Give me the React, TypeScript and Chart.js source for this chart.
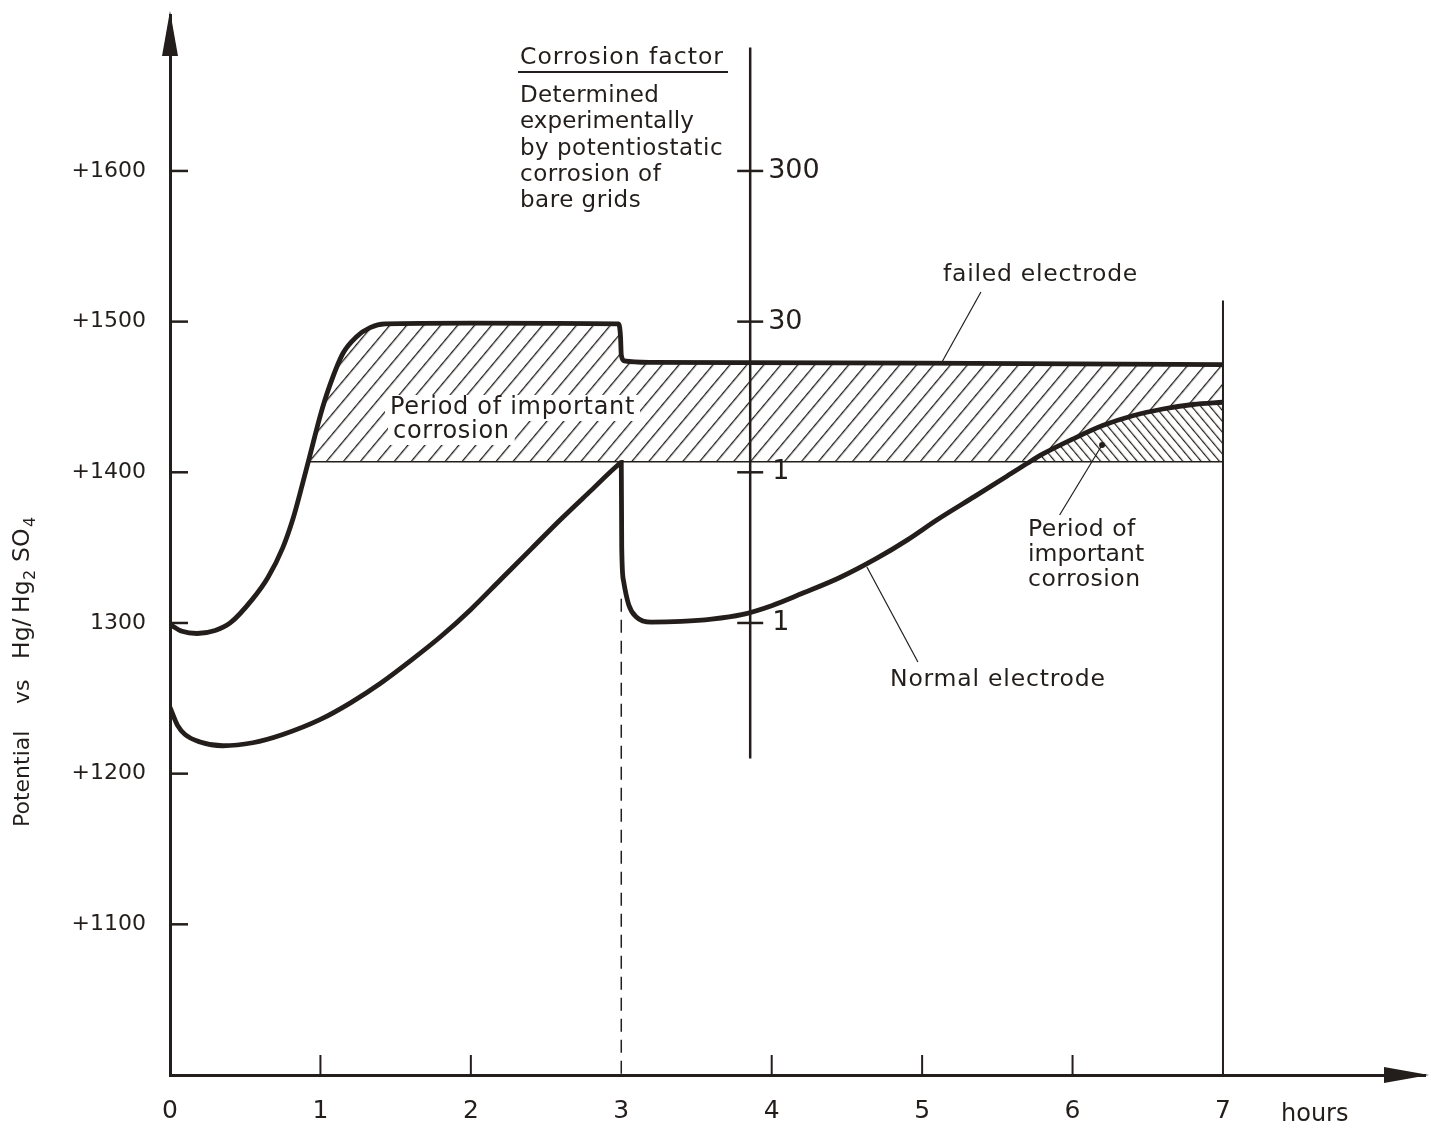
import React, { useEffect, useRef } from 'react';
import { Chart, registerables } from 'chart.js';

Chart.register(...registerables);

const INK = '#231e1b';
const FONT = '"DejaVu Sans", sans-serif';

// ---- data (hours, mV vs Hg/Hg2SO4) ----
const normalHours = [0, 0.05, 0.1, 0.2, 0.35, 0.55, 0.75, 1.0, 1.2, 1.4, 1.6, 1.8, 2.0, 2.2, 2.4, 2.6, 2.8, 2.98, 3.0, 3.003, 3.015, 3.05, 3.1, 3.2, 3.4, 3.6, 3.8, 4.0, 4.2, 4.45, 4.7, 4.9, 5.1, 5.35, 5.55, 5.7, 5.8, 6.0, 6.2, 6.4, 6.6, 6.8, 7.0];
const normalPotential = [1244, 1232, 1226, 1221, 1218.5, 1220.5, 1226, 1236, 1247, 1260, 1275, 1291, 1309, 1329, 1349, 1369, 1388, 1405, 1406.5, 1350, 1328, 1312, 1304, 1300.5, 1301, 1302.5, 1305.5, 1311.5, 1319.5, 1330, 1343, 1355, 1368.5, 1384, 1396.5, 1406, 1412, 1422, 1431, 1437.5, 1442, 1445, 1446.5];

const failedHours = [0, 0.08, 0.18, 0.3, 0.4, 0.55, 0.65, 0.75, 0.82, 0.88, 0.94, 1.0, 1.06, 1.15, 1.24, 1.33, 1.43, 2.0, 2.98, 2.995, 3.0, 3.02, 3.2, 5.0, 7.0];
const failedPotential = [1299, 1294.5, 1293, 1295, 1300, 1316, 1330, 1350, 1370, 1392, 1415, 1438, 1457, 1479, 1490, 1496, 1498.5, 1499, 1498.5, 1490, 1478, 1474, 1473, 1472.5, 1471.5];

const thresholdHours = [0.92, 7];
const thresholdPotential = [1407, 1407];

const yTickValues = [1100, 1200, 1300, 1400, 1500, 1600];
const yTickLabels = ['+1100', '+1200', '1300', '+1400', '+1500', '+1600'];
const xTickValues = [0, 1, 2, 3, 4, 5, 6, 7];
const xTickLabels = ['0', '1', '2', '3', '4', '5', '6', '7'];

const factorAxisHour = 3.857;
const factorAxisRange = [1210, 1682];
const factorTickPotential = [1600, 1500, 1400, 1300];
const factorTickLabels = ['300', '30', '1', '1'];

const endLineHour = 7;
const endLineRange = [1000, 1514];
const switchHour = 3;
const switchRange = [1000, 1316];

const zip = (xs: number[], ys: number[]) => xs.map((x, i) => ({ x, y: ys[i] }));

function hatch(ctx: CanvasRenderingContext2D, spacing: number, rotateDeg: number, lw: number, bg?: string) {
  const c = document.createElement('canvas');
  c.width = spacing;
  c.height = spacing;
  const g = c.getContext('2d')!;
  if (bg) {
    g.fillStyle = bg;
    g.fillRect(0, 0, spacing, spacing);
  }
  g.fillStyle = INK;
  g.fillRect(0, 0, lw, spacing);
  const p = ctx.createPattern(c, 'repeat')!;
  p.setTransform(new DOMMatrix().rotateSelf(rotateDeg));
  return p;
}

const overlay = {
  id: 'overlay',
  afterDatasetsDraw(chart: any) {
    const { ctx, scales } = chart;
    const X = (t: number) => scales.x.getPixelForValue(t);
    const Y = (v: number) => scales.y.getPixelForValue(v);
    const seg = (x1: number, y1: number, x2: number, y2: number, w: number, dash: number[] = []) => {
      ctx.beginPath();
      ctx.setLineDash(dash);
      ctx.lineWidth = w;
      ctx.moveTo(x1, y1);
      ctx.lineTo(x2, y2);
      ctx.stroke();
      ctx.setLineDash([]);
    };
    ctx.save();
    ctx.strokeStyle = INK;
    ctx.fillStyle = INK;
    ctx.lineCap = 'butt';

    // end-of-test line and switch line
    seg(X(endLineHour), Y(endLineRange[1]), X(endLineHour), Y(endLineRange[0]), 2);
    seg(X(switchHour), Y(switchRange[1]), X(switchHour), Y(switchRange[0]), 1.5, [13, 8]);

    // corrosion factor axis
    const fx = X(factorAxisHour);
    seg(fx, Y(factorAxisRange[1]), fx, Y(factorAxisRange[0]), 2.5);
    ctx.font = `27px ${FONT}`;
    ctx.textBaseline = 'middle';
    ctx.textAlign = 'left';
    factorTickPotential.forEach((v, i) => {
      seg(fx - 13, Y(v), fx + 13, Y(v), 2.5);
      const lbl = factorTickLabels[i];
      ctx.fillText(lbl, fx + (lbl === '1' ? 22 : 18), Y(v));
    });

    // leaders
    seg(X(5.132), Y(1473.2), X(5.391), Y(1519.7), 1.2);
    seg(X(4.633), Y(1337.2), X(4.972), Y(1274.1), 1.2);
    seg(X(6.196), Y(1418.1), X(5.914), Y(1371.7), 1.2);
    ctx.beginPath();
    ctx.arc(X(6.196), Y(1418.1), 3, 0, Math.PI * 2);
    ctx.fill();

    // texts
    const text = (s: string, x: number, y: number, size = 23.5, spacing = 0.7, knock = false) => {
      ctx.font = `${size}px ${FONT}`;
      (ctx as any).letterSpacing = `${spacing}px`;
      if (knock) {
        const w = ctx.measureText(s).width;
        ctx.fillStyle = '#ffffff';
        ctx.fillRect(x - 5, y - 13, w + 10, 26);
        ctx.fillStyle = INK;
      }
      ctx.fillText(s, x, y);
      (ctx as any).letterSpacing = '0px';
    };
    text('Period of important', 390, 408, 24, 0.7, true);
    text('corrosion', 393, 432, 24, 0.7, true);

    text('Corrosion factor', 520, 58, 23.5, 1);
    seg(518, 72, 728, 72, 2);
    text('Determined', 520, 96, 23, 0.3);
    text('experimentally', 520, 122, 23, 0.1);
    text('by potentiostatic', 520, 149, 23, 0.5);
    text('corrosion of', 520, 175, 23, 0.5);
    text('bare grids', 520, 201, 23, 0.5);

    text('failed electrode', 943, 275, 23.5, 0.75);
    text('Period of', 1028, 530, 23.5, 0.5);
    text('important', 1028, 555, 23.5, 0);
    text('corrosion', 1028, 580, 23.5, 0.5);
    text('Normal electrode', 890, 680, 23.5, 0.8);
    ctx.restore();
  },
  afterDraw(chart: any) {
    const { ctx, scales, chartArea } = chart;
    const X = (t: number) => scales.x.getPixelForValue(t);
    const Y = (v: number) => scales.y.getPixelForValue(v);
    ctx.save();
    ctx.strokeStyle = INK;
    ctx.fillStyle = INK;
    ctx.lineWidth = 2.5;
    // inner ticks + labels (y)
    ctx.font = `22px ${FONT}`;
    ctx.textBaseline = 'middle';
    ctx.textAlign = 'right';
    yTickValues.forEach((v, i) => {
      ctx.beginPath();
      ctx.moveTo(chartArea.left, Y(v));
      ctx.lineTo(chartArea.left + 18, Y(v));
      ctx.stroke();
      ctx.fillText(yTickLabels[i], chartArea.left - 24, Y(v));
    });
    // x ticks + labels
    ctx.lineWidth = 2;
    ctx.font = `25px ${FONT}`;
    ctx.textAlign = 'center';
    xTickValues.forEach((t, i) => {
      if (t !== 0 && t !== switchHour && t !== endLineHour) {
        ctx.beginPath();
        ctx.moveTo(X(t), chartArea.bottom);
        ctx.lineTo(X(t), chartArea.bottom - 20);
        ctx.stroke();
      }
      ctx.fillText(xTickLabels[i], X(t), chartArea.bottom + 36);
    });
    // arrows
    ctx.beginPath();
    ctx.moveTo(chartArea.left, 11);
    ctx.lineTo(chartArea.left - 8, 56);
    ctx.lineTo(chartArea.left + 8, 56);
    ctx.closePath();
    ctx.fill();
    ctx.beginPath();
    ctx.moveTo(1429, chartArea.bottom);
    ctx.lineTo(1384, chartArea.bottom - 8);
    ctx.lineTo(1384, chartArea.bottom + 8);
    ctx.closePath();
    ctx.fill();

    // x unit
    ctx.font = `24px ${FONT}`;
    ctx.textAlign = 'left';
    ctx.fillText('hours', 1281, chartArea.bottom + 40);

    // y title (rotated, with subscripts)
    ctx.translate(29, 0);
    ctx.rotate(-Math.PI / 2);
    ctx.textBaseline = 'alphabetic';
    const part = (s: string, screenY: number, size: number, dy: number) => {
      ctx.font = `${size}px ${FONT}`;
      ctx.fillText(s, -screenY, dy);
    };
    part('Potential', 827, 22, 0);
    part('vs', 704, 22, 0);
    part('Hg/', 659, 23.5, 0);
    part('Hg', 613, 23.5, 0);
    part('2', 580, 16, 6);
    part('SO', 562, 23.5, 0);
    part('4', 527, 16, 6);
    ctx.restore();
  },
};

export default function App() {
  const ref = useRef<HTMLCanvasElement | null>(null);
  useEffect(() => {
    document.body.style.margin = '0';
    document.body.style.background = '#ffffff';
    const canvas = ref.current!;
    const ctx = canvas.getContext('2d')!;
    const sparse = hatch(ctx, 13, 40, 1.3);
    const dense = hatch(ctx, 7, -40, 1.2, '#ffffff');
    const chart = new Chart(canvas, {
      type: 'line',
      data: {
        datasets: [
          {
            label: 'Normal electrode',
            data: zip(normalHours, normalPotential),
            borderColor: INK,
            borderWidth: 4.8,
            pointRadius: 0,
            cubicInterpolationMode: 'monotone',
            backgroundColor: dense as any,
            fill: { target: 2, below: 'rgba(0,0,0,0)' } as any,
            order: 1,
          },
          {
            label: 'Failed electrode',
            data: zip(failedHours, failedPotential),
            borderColor: INK,
            borderWidth: 4.8,
            pointRadius: 0,
            cubicInterpolationMode: 'monotone',
            backgroundColor: sparse as any,
            fill: { target: 2, below: 'rgba(0,0,0,0)' } as any,
            order: 2,
          },
          {
            label: 'Threshold',
            data: zip(thresholdHours, thresholdPotential),
            borderColor: INK,
            borderWidth: 1.6,
            pointRadius: 0,
            fill: false,
            order: 0,
          },
        ],
      },
      options: {
        responsive: false,
        animation: false,
        events: [],
        layout: { padding: { top: 15, right: 6, left: 0, bottom: 0 } },
        plugins: { legend: { display: false }, tooltip: { enabled: false } },
        scales: {
          x: {
            type: 'linear',
            min: 0,
            max: 8.343,
            afterFit: (s: any) => {
              s.height = 59;
            },
            grid: { display: false, drawTicks: false },
            border: { display: true, width: 3, color: INK },
            ticks: { display: false, stepSize: 1 },
          },
          y: {
            type: 'linear',
            min: 1000,
            max: 1703.5,
            afterFit: (s: any) => {
              s.width = 170;
            },
            grid: { display: false, drawTicks: false },
            border: { display: true, width: 3, color: INK },
            ticks: { display: false, stepSize: 100 },
          },
        },
      },
      plugins: [overlay],
    });
    return () => chart.destroy();
  }, []);
  return (
    <div style={{ width: 1431, height: 1134, background: '#ffffff' }}>
      <canvas ref={ref} width={1431} height={1134} style={{ display: 'block', width: 1431, height: 1134 }} />
    </div>
  );
}
